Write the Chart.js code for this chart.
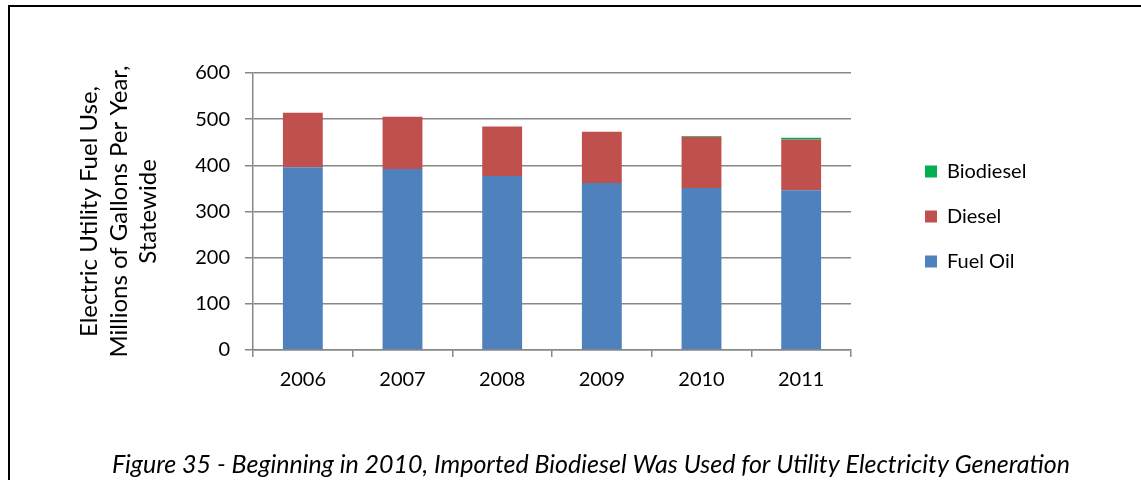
<!DOCTYPE html>
<html><head><meta charset="utf-8">
<script src="https://cdn.jsdelivr.net/npm/chart.js@4/dist/chart.umd.min.js"></script>
<style>
html,body{margin:0;padding:0;background:#fff;overflow:hidden;}
#wrap{position:relative;width:1141px;height:480px;overflow:hidden;}
#frame{position:absolute;left:8px;top:5px;width:2000px;height:2000px;border-left:2px solid #000;border-top:2px solid #000;pointer-events:none;}
canvas{display:block;}
</style></head><body>
<div id="wrap"><canvas id="c" width="1141" height="480"></canvas><div id="frame"></div></div>
<script>
const categories = ['2006','2007','2008','2009','2010','2011'];
const fuelOil = [396, 392, 377, 362, 351, 346];
const diesel = [118, 113, 107, 111, 111, 110];
const biodiesel = [0, 0, 0, 0, 1.5, 3.5];
const yTickValues = [0, 100, 200, 300, 400, 500, 600];
const seriesNames = ['Fuel Oil', 'Diesel', 'Biodiesel'];
const yTitle = ['Electric Utility Fuel Use,', 'Millions of Gallons Per Year,', 'Statewide'];
const caption = 'Figure 35 - Beginning in 2010, Imported Biodiesel Was Used for Utility Electricity Generation';

const FONT = 'Lato, "Open Sans", sans-serif';
const GRID = '#888888';
const LEG_SIZE = 20, LEG_BOX = 12, LEG_PAD = 25;

// layout: plot area right edge target, derived from legend's natural width
const PLOT_RIGHT = 851;
const mctx = document.createElement('canvas').getContext('2d');
mctx.font = LEG_SIZE + 'px ' + FONT;
const maxText = Math.max(...seriesNames.map(t => mctx.measureText(t).width));
const legendW = LEG_PAD + LEG_BOX + LEG_SIZE / 2 + maxText + 10;
const padRight = Math.max(0, 1141 - PLOT_RIGHT - legendW);

const placeBlocks = {
  id: 'placeBlocks',
  beforeDraw(chart) {
    const lg = chart.legend;
    if (lg) {
      const dx = 49, dy = 5;
      lg.left = chart.chartArea.right + dx;
      lg.right = lg.left + lg.width;
      lg.top = chart.chartArea.top + dy;
      lg.bottom = chart.chartArea.bottom + dy;
    }
    const tb = chart.titleBlock;
    if (tb) {
      tb.left = 41;
      tb.right = 1141;
      tb.width = tb.right - tb.left;
    }
  }
};

new Chart(document.getElementById('c'), {
  type: 'bar',
  data: {
    labels: categories,
    datasets: [
      {label: seriesNames[0], data: fuelOil, backgroundColor: '#4F81BD', borderWidth: 0},
      {label: seriesNames[1], data: diesel, backgroundColor: '#C0504D', borderWidth: 0},
      {label: seriesNames[2], data: biodiesel, backgroundColor: '#00B050', borderWidth: 0}
    ]
  },
  options: {
    responsive: false,
    animation: false,
    devicePixelRatio: 1,
    barPercentage: 0.5,
    categoryPercentage: 0.8,
    layout: {padding: {top: 73, right: padRight, bottom: 0, left: 0}},
    plugins: {
      tooltip: {enabled: false},
      legend: {
        position: 'right',
        fullSize: false,
        reverse: true,
        labels: {
          boxWidth: LEG_BOX, boxHeight: LEG_BOX, padding: LEG_PAD,
          color: '#000',
          font: {family: FONT, size: LEG_SIZE}
        }
      },
      title: {
        display: true,
        position: 'bottom',
        text: caption,
        color: '#000',
        font: {family: FONT, size: 25, style: 'italic', weight: 'normal', lineHeight: 1.2},
        padding: {top: 50, bottom: 0}
      }
    },
    scales: {
      x: {
        stacked: true,
        grid: {display: true, drawOnChartArea: false, drawTicks: true, tickLength: 7, color: GRID, lineWidth: 1.5, offset: true},
        border: {color: GRID, width: 1.5},
        ticks: {color: '#000', font: {family: FONT, size: 20}, padding: 11},
        afterFit(s) { s.height = 50; }
      },
      y: {
        stacked: true,
        min: 0, max: 600,
        afterBuildTicks(s) { s.ticks = yTickValues.map(v => ({value: v})); },
        grid: {color: GRID, lineWidth: 1.5, tickLength: 8},
        border: {color: GRID, width: 1.5},
        ticks: {color: '#000', font: {family: FONT, size: 20}, padding: 15},
        title: {
          display: true,
          text: yTitle,
          color: '#000',
          font: {family: FONT, size: 24, lineHeight: 29.5 / 24},
          padding: {top: 75, bottom: 0}
        },
        afterFit(s) { s.width = 253; }
      }
    }
  },
  plugins: [placeBlocks]
});
</script>
</body></html>
